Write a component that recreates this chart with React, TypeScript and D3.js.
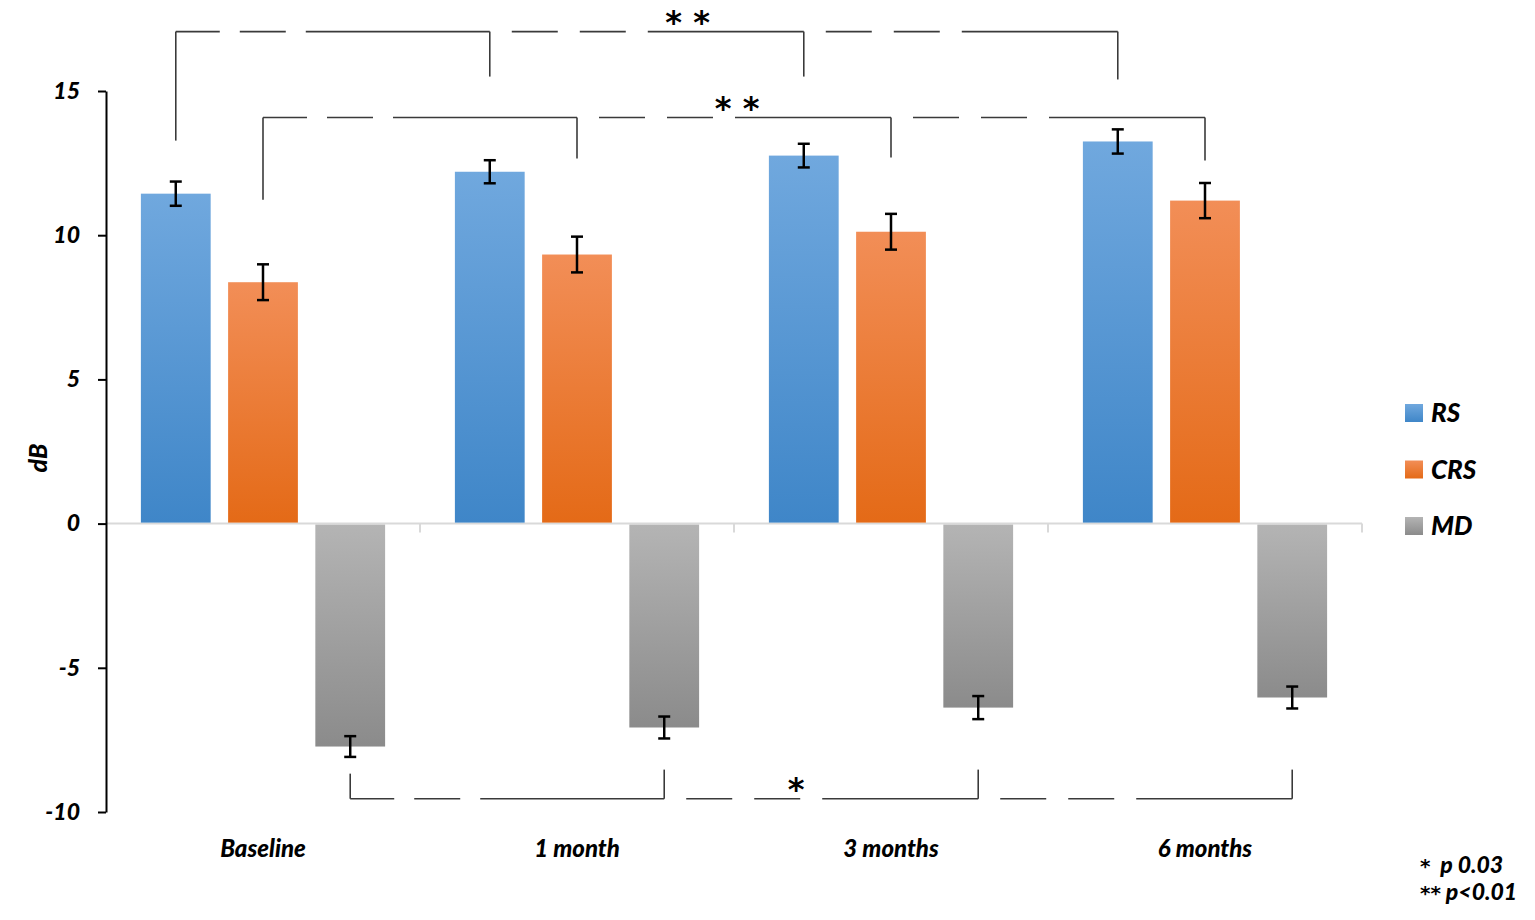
import React, { useRef, useEffect } from "react";
import * as d3 from "d3";

const categories = ["Baseline", "1 month", "3 months", "6 months"];
const series = ["RS", "CRS", "MD"];
const rsValues = [11.44, 12.2, 12.76, 13.25];
const rsErrors = [0.42, 0.4, 0.41, 0.42];
const crsValues = [8.37, 9.33, 10.12, 11.2];
const crsErrors = [0.62, 0.62, 0.62, 0.61];
const mdValues = [-7.73, -7.07, -6.38, -6.03];
const mdErrors = [0.36, 0.38, 0.4, 0.38];
const yTicks = [15, 10, 5, 0, -5, -10];
const footnoteMarks = ["*", "**"];
const footnoteTexts = ["  p 0.03", " p<0.01"];

// significance brackets (dB units): bar level, where each drop stops, label and where it sits
const brackets = [
  { series: "RS", level: 17.06, ends: [13.28, 15.5, 15.5, 15.4], label: "* *", seg: 1, at: 0.63 },
  { series: "CRS", level: 14.08, ends: [11.23, 12.66, 12.69, 12.59], label: "* *", seg: 1, at: 0.51 },
  { series: "MD", level: -9.54, ends: [-8.67, -8.53, -8.53, -8.53], label: "*", seg: 1, at: 0.42 },
];

const W = 1535;
const H = 920;
const margin = { left: 106, right: 173, top: 91, bottom: 108 };

const colors: Record<string, [string, string]> = {
  RS: ["#70a8de", "#3f86c8"],
  CRS: ["#f28e57", "#e46a17"],
  MD: ["#b4b4b4", "#8b8b8b"],
};

const font = "Lato, 'Open Sans', sans-serif";
const starFont = "'DejaVu Sans', sans-serif";

// on/off lengths of the hand drawn dashes, last piece runs to the corner
const firstPattern = [44, 20, 46, 20];
const otherPattern = [0, 22, 46, 22, 46, 22];

function pieces(x0: number, x1: number, pattern: number[]) {
  const out: [number, number][] = [];
  let x = x0;
  pattern.forEach((len, i) => {
    if (i % 2 === 0 && len > 0) out.push([x, Math.min(x + len, x1)]);
    x += len;
  });
  if (x < x1) out.push([x, x1]);
  return out;
}

function App() {
  const axisRef = useRef<SVGGElement>(null);

  const x0 = d3
    .scaleBand()
    .domain(categories)
    .range([margin.left, W - margin.right])
    .padding(0);
  const x1 = d3
    .scaleBand()
    .domain(series)
    .range([0, x0.bandwidth()])
    .paddingInner(0.2)
    .paddingOuter(0.4);
  const y = d3
    .scaleLinear()
    .domain([-10, 15])
    .range([H - margin.bottom, margin.top]);

  const valuesBySeries: Record<string, number[]> = { RS: rsValues, CRS: crsValues, MD: mdValues };
  const errorsBySeries: Record<string, number[]> = { RS: rsErrors, CRS: crsErrors, MD: mdErrors };

  useEffect(() => {
    const g = d3.select(axisRef.current);
    g.call(
      d3
        .axisLeft(y)
        .tickValues(yTicks)
        .tickSize(8)
        .tickSizeOuter(0)
        .tickPadding(18)
        .tickFormat((d) => String(d))
    );
    g.select(".domain").attr("stroke", "#000").attr("stroke-width", 2);
    g.selectAll(".tick line").attr("stroke", "#000").attr("stroke-width", 2);
    g.selectAll(".tick text")
      .attr("fill", "#000")
      .style("font-family", font)
      .style("font-size", "23px")
      .style("font-weight", "900")
      .style("font-style", "italic");
  }, []);

  const cx = (cat: string, s: string) => (x0(cat) ?? 0) + (x1(s) ?? 0) + x1.bandwidth() / 2;

  return (
    <svg width={W} height={H} style={{ position: "absolute", left: 0, top: 0, background: "#fff" }}>
      <defs>
        {series.map((s) => (
          <linearGradient key={s} id={"grad-" + s} x1="0" y1="0" x2="0" y2="1">
            <stop offset="0%" stopColor={colors[s][0]} />
            <stop offset="100%" stopColor={colors[s][1]} />
          </linearGradient>
        ))}
      </defs>

      {/* zero line and category ticks */}
      <line x1={margin.left} x2={W - margin.right} y1={y(0)} y2={y(0)} stroke="#d9d9d9" strokeWidth={2} />
      {categories.map((c) => (
        <line
          key={c}
          x1={(x0(c) ?? 0) + x0.bandwidth()}
          x2={(x0(c) ?? 0) + x0.bandwidth()}
          y1={y(0)}
          y2={y(0) + 9}
          stroke="#d9d9d9"
          strokeWidth={2}
        />
      ))}

      {/* bars */}
      {categories.map((c, i) =>
        series.map((s) => {
          const v = valuesBySeries[s][i];
          return (
            <rect
              key={c + s}
              x={(x0(c) ?? 0) + (x1(s) ?? 0)}
              width={x1.bandwidth()}
              y={v >= 0 ? y(v) : y(0) + 1}
              height={Math.abs(y(v) - y(0)) - 1}
              fill={`url(#grad-${s})`}
            />
          );
        })
      )}

      {/* error bars */}
      {categories.map((c, i) =>
        series.map((s) => {
          const v = valuesBySeries[s][i];
          const e = errorsBySeries[s][i];
          const x = cx(c, s);
          return (
            <g key={"e" + c + s} stroke="#000" strokeWidth={2.5}>
              <line x1={x} x2={x} y1={y(v + e)} y2={y(v - e)} />
              <line x1={x - 6} x2={x + 6} y1={y(v + e)} y2={y(v + e)} />
              <line x1={x - 6} x2={x + 6} y1={y(v - e)} y2={y(v - e)} />
            </g>
          );
        })
      )}

      <g ref={axisRef} transform={`translate(${margin.left},0)`} />

      {/* significance brackets */}
      {brackets.map((b) => {
        const xs = categories.map((c) => cx(c, b.series));
        const ly = y(b.level);
        return (
          <g key={b.series} stroke="#3a3a3a" strokeWidth={1.6} fill="none">
            {xs.map((x, i) => (
              <line key={"d" + i} x1={x} x2={x} y1={ly} y2={y(b.ends[i])} />
            ))}
            {xs.slice(1).map((x, i) =>
              pieces(xs[i], x, i === 0 ? firstPattern : otherPattern).map(([a, z], k) => (
                <line key={"h" + i + "-" + k} x1={a} x2={z} y1={ly} y2={ly} />
              ))
            )}
            <text
              x={xs[b.seg] + (xs[b.seg + 1] - xs[b.seg]) * b.at}
              y={ly + 1}
              textAnchor="middle"
              stroke="none"
              fill="#000"
              style={{ fontFamily: starFont, fontSize: 32, fontWeight: "bold" }}
            >
              {b.label}
            </text>
          </g>
        );
      })}

      {/* category labels */}
      {categories.map((c) => (
        <text
          key={"l" + c}
          x={(x0(c) ?? 0) + x0.bandwidth() / 2}
          y={857}
          textAnchor="middle"
          style={{ fontFamily: font, fontSize: 24, fontWeight: "900", fontStyle: "italic" }}
        >
          {c}
        </text>
      ))}

      {/* y label */}
      <text
        transform="translate(47,458) rotate(-90)"
        textAnchor="middle"
        style={{ fontFamily: font, fontSize: 25, fontWeight: "900", fontStyle: "italic" }}
      >
        dB
      </text>

      {/* legend */}
      {series.map((s, i) => (
        <g key={"lg" + s} transform={`translate(1405,${404 + i * 56.5})`}>
          <rect width={18} height={18} fill={`url(#grad-${s})`} />
          <text
            x={26}
            y={18}
            style={{ fontFamily: font, fontSize: 26, fontWeight: "900", fontStyle: "italic" }}
          >
            {s}
          </text>
        </g>
      ))}

      {/* footnotes */}
      {footnoteTexts.map((f, i) => (
        <text
          key={f}
          x={1420}
          y={873 + i * 27}
          xmlSpace="preserve"
          style={{ fontFamily: font, fontSize: 23, fontWeight: "900", fontStyle: "italic", whiteSpace: "pre" }}
        >
          <tspan style={{ fontFamily: starFont, fontSize: 20, fontStyle: "normal" }}>
            {footnoteMarks[i]}
          </tspan>
          <tspan>{f}</tspan>
        </text>
      ))}
    </svg>
  );
}

export default App;
